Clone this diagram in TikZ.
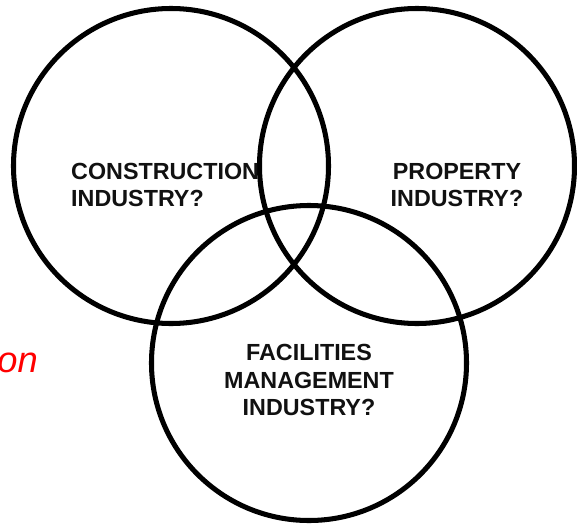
\documentclass[tikz,border=0pt]{standalone}
\usepackage{fontspec}
\setmainfont{Liberation Sans}
\usepackage{tikz}
\usetikzlibrary{positioning}
\usepackage{xcolor}
\definecolor{RingBlack}{HTML}{000000}
\definecolor{NoteRed}{HTML}{FF0000}
\definecolor{LabelText}{HTML}{111111}

\begin{document}
\begin{tikzpicture}[x=0.03cm,y=-0.03cm,
        ring/.style={draw=RingBlack,line width=4.3pt,circle,minimum size=9.45cm,inner sep=0pt},
        sector/.style={inner sep=0pt,text=LabelText,font=\fontsize{19.9}{23.8}\selectfont\bfseries},
        note/.style={inner sep=0pt,text=NoteRed,font=\fontsize{31}{36}\selectfont\itshape}]
      \useasboundingbox (0,0) rectangle (577,525);
      % the three industries
      \node[ring] (construction) at (171,166) {};
      \node[ring] (property)     at (417,166) {};
      \node[ring] (facilities)   at (309,363) {};
      % labels
      \node[sector,anchor=west,align=left]  (conslbl) at (71,185)  {CONSTRUCTION\\INDUSTRY?};
      \node[sector,align=center]            (proplbl) at (457,185) {PROPERTY\\INDUSTRY?};
      \node[sector,align=center]            (faclbl)  at (309,380) {FACILITIES\\MANAGEMENT\\INDUSTRY?};
      \node[note,anchor=base east] (note) at (38,372) {on};
    \end{tikzpicture}
\end{document}
